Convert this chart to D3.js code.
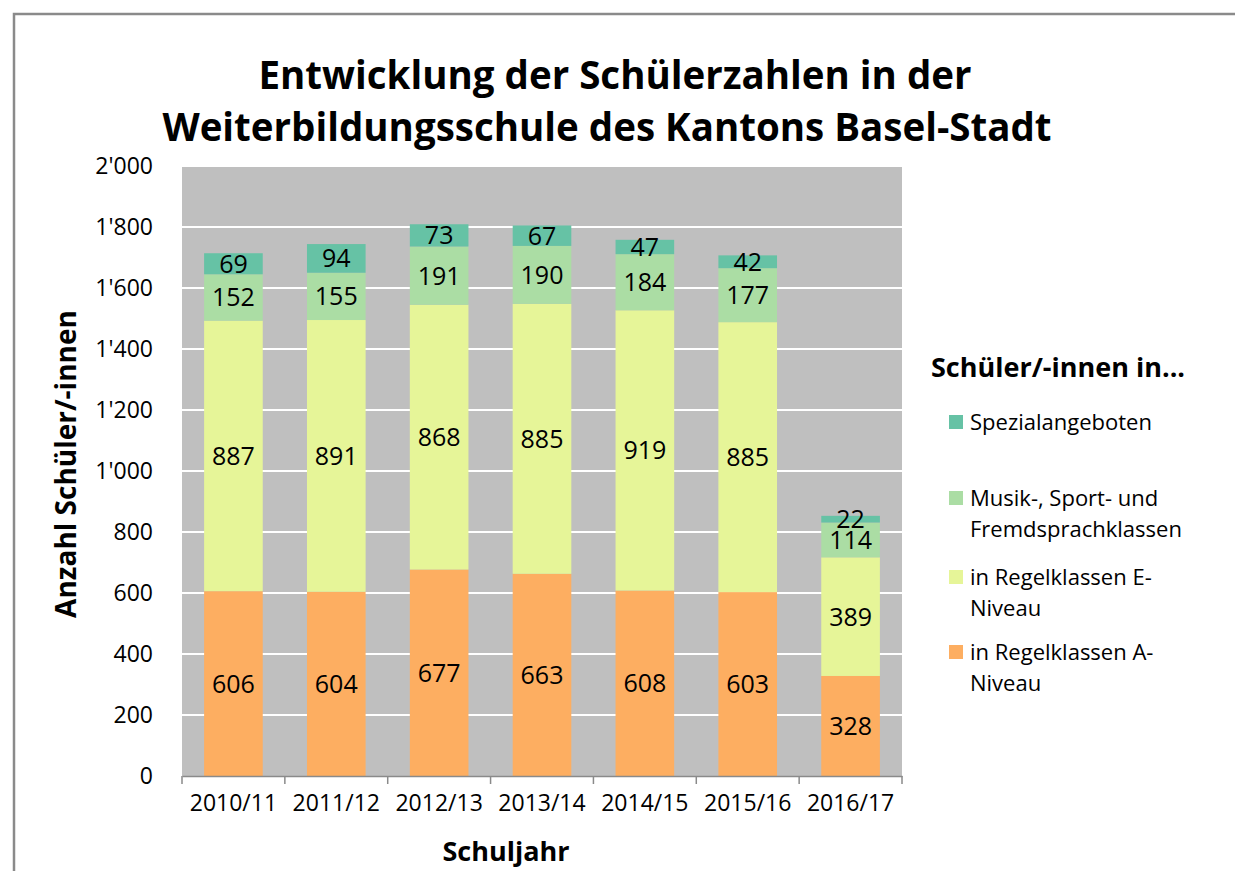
<!DOCTYPE html>
<html lang="de">
<head>
<meta charset="UTF-8">
<script src="https://cdnjs.cloudflare.com/ajax/libs/d3/7.8.5/d3.min.js"></script>
<style>
body{ margin:0; background:#fff; }
svg text{ font-family: "Open Sans", sans-serif; fill:#000; }
</style>
</head>
<body>
<div id="chart"></div>
<script>
// data
const years = ['2010/11','2011/12','2012/13','2013/14','2014/15','2015/16','2016/17'];
const aNiveau = [606, 604, 677, 663, 608, 603, 328];
const eNiveau = [887, 891, 868, 885, 919, 885, 389];
const musik = [152, 155, 191, 190, 184, 177, 114];
const spezial = [69, 94, 73, 67, 47, 42, 22];
const yTicks = [0, 200, 400, 600, 800, 1000, 1200, 1400, 1600, 1800, 2000];

const seriesNames = ['in Regelklassen A-Niveau', 'in Regelklassen E-Niveau', 'Musik-, Sport- und Fremdsprachklassen', 'Spezialangeboten'];
const colors = ['#fdae61', '#e6f598', '#abdda4', '#66c2a5'];

const w = 1235, h = 871;
const plotLeft = 182, plotRight = 902, plotTop = 166, plotBottom = 776;

const svg = d3.select('#chart').append('svg').attr('width', w).attr('height', h);

// outer frame (cut off at right and bottom like the picture)
svg.append('path').attr('d', 'M14,' + (h + 5) + ' L14,14 L' + (w + 5) + ',14')
  .attr('fill', 'none').attr('stroke', '#8a8a8a').attr('stroke-width', 2.5);

const x = d3.scaleBand().domain(years).range([plotLeft, plotRight]).paddingInner(0.43).paddingOuter(0.215);
const y = d3.scaleLinear().domain([0, 2000]).range([plotBottom, plotTop]);

svg.append('rect').attr('x', plotLeft).attr('y', plotTop).attr('width', plotRight - plotLeft).attr('height', plotBottom - plotTop).attr('fill', '#bfbfbf');

// gridlines
svg.append('g').selectAll('line').data(yTicks.slice(1)).enter().append('line')
  .attr('x1', plotLeft).attr('x2', plotRight).attr('y1', d => y(d)).attr('y2', d => y(d))
  .attr('stroke', '#fff').attr('stroke-width', 2);

const rows = years.map((yr, i) => ({ year: yr, s0: aNiveau[i], s1: eNiveau[i], s2: musik[i], s3: spezial[i] }));
const stack = d3.stack().keys(['s0', 's1', 's2', 's3'])(rows);

const groups = svg.append('g').selectAll('g').data(stack).enter().append('g').attr('fill', (d, i) => colors[i]);
groups.selectAll('rect').data(d => d).enter().append('rect')
  .attr('x', d => x(d.data.year)).attr('width', x.bandwidth())
  .attr('y', d => y(d[1])).attr('height', d => y(d[0]) - y(d[1]));

groups.selectAll('text').data(d => d).enter().append('text')
  .attr('x', d => x(d.data.year) + x.bandwidth() / 2)
  .attr('y', d => (y(d[0]) + y(d[1])) / 2)
  .attr('dy', '0.36em').attr('text-anchor', 'middle').style('font-size', '25px')
  .text(d => d[1] - d[0]);

// axes
const fmt = d => d3.format(',')(d).replace(',', "'");
const yAxis = svg.append('g').attr('transform', 'translate(' + plotLeft + ',0)')
  .call(d3.axisLeft(y).tickValues(yTicks).tickSize(0).tickPadding(29).tickFormat(fmt));
yAxis.select('.domain').remove();
yAxis.selectAll('text').style('font-size', '23px').style('font-family', '"Open Sans", sans-serif');

const xAxis = svg.append('g').attr('transform', 'translate(0,' + plotBottom + ')')
  .call(d3.axisBottom(x).tickSize(0).tickPadding(19));
xAxis.select('.domain').attr('stroke', '#8a8a8a').attr('stroke-width', 1.5);
xAxis.selectAll('text').style('font-size', '23px').style('font-family', '"Open Sans", sans-serif');
const step = x.step();
svg.append('g').selectAll('line').data(d3.range(years.length + 1)).enter().append('line')
  .attr('x1', d => plotLeft + d * step).attr('x2', d => plotLeft + d * step)
  .attr('y1', plotBottom).attr('y2', plotBottom + 8).attr('stroke', '#8a8a8a').attr('stroke-width', 1.5);

// titles
svg.append('text').attr('x', 615).attr('y', 89).attr('text-anchor', 'middle')
  .style('font-size', '38.5px').style('font-weight', 'bold').text('Entwicklung der Schülerzahlen in der');
svg.append('text').attr('x', 607).attr('y', 141).attr('text-anchor', 'middle')
  .style('font-size', '38.5px').style('font-weight', 'bold').text('Weiterbildungsschule des Kantons Basel-Stadt');

svg.append('text').attr('x', 506).attr('y', 861).attr('text-anchor', 'middle')
  .style('font-size', '27px').style('font-weight', 'bold').text('Schuljahr');
svg.append('text').attr('transform', 'translate(76,464) rotate(-90)').attr('text-anchor', 'middle')
  .style('font-size', '28px').style('font-weight', 'bold').text('Anzahl Schüler/-innen');

// legend
const legend = svg.append('g');
legend.append('text').attr('x', 931).attr('y', 377).style('font-size', '27px').style('font-weight', 'bold').text('Schüler/-innen in...');
const legendItems = [
  { c: 3, lines: ['Spezialangeboten'], y: 422 },
  { c: 2, lines: ['Musik-, Sport- und', 'Fremdsprachklassen'], y: 498 },
  { c: 1, lines: ['in Regelklassen E-', 'Niveau'], y: 577 },
  { c: 0, lines: ['in Regelklassen A-', 'Niveau'], y: 652 }
];
legendItems.forEach(it => {
  legend.append('rect').attr('x', 949).attr('y', it.y - 7).attr('width', 14).attr('height', 14).attr('fill', colors[it.c]);
  it.lines.forEach((t, j) => {
    legend.append('text').attr('x', 970).attr('y', it.y + j * 31).attr('dy', '0.36em').style('font-size', '22px').text(t);
  });
});
</script>
</body>
</html>
